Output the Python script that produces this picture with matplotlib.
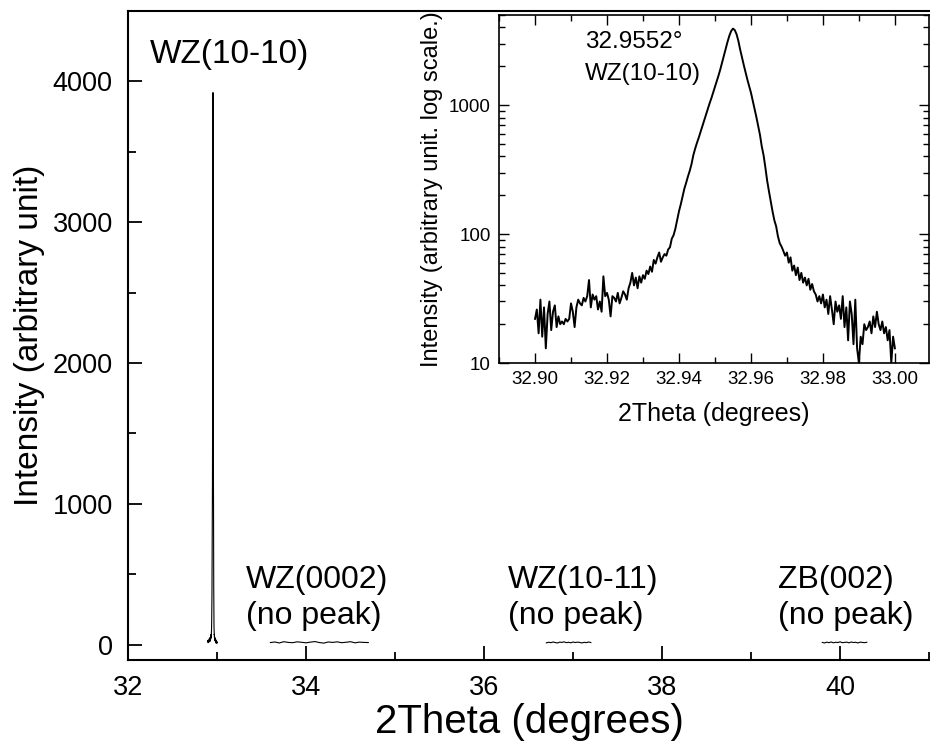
"""
XRD 2Theta scan: WZ(10-10) peak with log-scale inset.
"""

# Import packages
import numpy as np
import matplotlib.pyplot as plt
from matplotlib.ticker import MultipleLocator, LogLocator, NullFormatter

plt.style.use("default")
plt.rcParams["font.family"] = ["Liberation Sans", "DejaVu Sans"]

# Data
# fine scan around WZ(10-10), 32.900 -> 33.000 deg, step 0.0005 deg
peak_start, peak_stop = 32.900, 33.000
peak_counts = [
    22, 26, 17, 31, 16, 27, 13, 24, 30, 18,
    25, 28, 19, 23, 20, 21, 20, 22, 21, 22,
    29, 25, 19, 27, 31, 29, 28, 32, 30, 33,
    44, 27, 34, 31, 33, 26, 30, 25, 47, 33,
    35, 31, 23, 33, 32, 30, 35, 29, 32, 36,
    34, 31, 38, 42, 50, 40, 46, 38, 47, 42,
    48, 45, 52, 49, 56, 51, 63, 59, 66, 72,
    61, 66, 70, 68, 76, 79, 92, 98, 110, 128,
    150, 170, 195, 225, 250, 280, 310, 350, 410, 460,
    510, 560, 620, 690, 760, 840, 930, 1030, 1130, 1250,
    1380, 1530, 1700, 1900, 2150, 2420, 2750, 3100, 3450, 3750,
    3920, 3820, 3550, 3150, 2700, 2350, 2050, 1800, 1580, 1400,
    1250, 1080, 940, 810, 690, 590, 480, 410, 330, 260,
    215, 180, 150, 128, 115, 96, 85, 80, 74, 68,
    72, 60, 66, 52, 57, 48, 55, 44, 50, 42,
    46, 40, 45, 37, 41, 36, 34, 30, 33, 29,
    34, 27, 31, 24, 33, 26, 20, 30, 25, 28,
    22, 33, 19, 27, 15, 30, 24, 14, 31, 13,
    10, 16, 14, 20, 18, 19, 21, 17, 23, 19,
    25, 20, 18, 21, 17, 19, 15, 18, 10, 16,
    13,
]

# scans where no peak was found
wz0002_start, wz0002_stop = 33.6, 34.7
wz0002_counts = [14, 18, 11, 20, 15, 13, 19, 16, 12, 17, 21, 14,
                 10, 18, 15, 19, 13, 16, 20, 12, 17, 15, 14]
wz1011_start, wz1011_stop = 36.7, 37.2
wz1011_counts = [12, 16, 13, 18, 14, 11, 17, 15, 19, 13, 16,
                 12, 18, 14, 17, 15, 11, 16, 13, 18, 14]
zb002_start, zb002_stop = 39.8, 40.3
zb002_counts = [15, 11, 17, 13, 18, 12, 16, 14, 19, 13, 15,
                17, 12, 18, 14, 16, 11, 17, 15, 13, 16]

peak_x = np.linspace(peak_start, peak_stop, len(peak_counts))
scans = [
    (peak_x, peak_counts),
    (np.linspace(wz0002_start, wz0002_stop, len(wz0002_counts)), wz0002_counts),
    (np.linspace(wz1011_start, wz1011_stop, len(wz1011_counts)), wz1011_counts),
    (np.linspace(zb002_start, zb002_stop, len(zb002_counts)), zb002_counts),
]

# Main plot
fig = plt.figure(figsize=(9.3, 7.53), dpi=100)
ax = fig.add_axes([0.1376, 0.1235, 0.8624, 0.862])

for x, y in scans:
    ax.plot(x, y, color="black", linewidth=0.8)

ax.set_xlim(32, 41.01)
ax.set_ylim(-110, 4500)
ax.spines["right"].set_visible(False)
for side in ["left", "bottom", "top"]:
    ax.spines[side].set_linewidth(1.5)

ax.xaxis.set_major_locator(MultipleLocator(2))
ax.xaxis.set_minor_locator(MultipleLocator(1))
ax.yaxis.set_major_locator(MultipleLocator(1000))
ax.yaxis.set_minor_locator(MultipleLocator(500))
ax.tick_params(which="both", direction="in", labelsize=19.5, pad=11, width=1.3)
ax.tick_params(which="major", length=10)
ax.tick_params(which="minor", length=6)

ax.set_xlabel("2Theta (degrees)", fontsize=29, labelpad=1)
ax.set_ylabel("Intensity (arbitrary unit)", fontsize=24, labelpad=5)

ax.text(32.25, 4190, "WZ(10-10)", fontsize=24, va="center")
ax.text(33.33, 330, "WZ(0002)\n(no peak)", fontsize=23, va="center", linespacing=1.25)
ax.text(36.27, 330, "WZ(10-11)\n(no peak)", fontsize=23, va="center", linespacing=1.25)
ax.text(39.30, 330, "ZB(002)\n(no peak)", fontsize=23, va="center", linespacing=1.25)

# Inset, log scale
ins = fig.add_axes([0.5366, 0.5179, 0.4624, 0.4622])
ins.plot(peak_x, peak_counts, color="black", linewidth=1.4)
ins.set_yscale("log")
ins.set_xlim(32.89, 33.0095)
ins.set_ylim(10, 5000)
for side in ins.spines:
    ins.spines[side].set_linewidth(1.2)

ins.xaxis.set_major_locator(MultipleLocator(0.02))
ins.xaxis.set_minor_locator(MultipleLocator(0.01))
ins.xaxis.set_major_formatter(plt.FormatStrFormatter("%.2f"))
ins.yaxis.set_major_locator(LogLocator(base=10))
ins.yaxis.set_minor_locator(LogLocator(base=10, subs=np.arange(2, 10)))
ins.yaxis.set_minor_formatter(NullFormatter())
ins.yaxis.set_major_formatter(plt.FuncFormatter(lambda v, p: "%d" % v))
ins.tick_params(which="both", direction="in", top=True, right=True,
                labelsize=13.5, pad=6, width=1.0)
ins.tick_params(which="major", length=7)
ins.tick_params(which="minor", length=4)

ins.set_xlabel("2Theta (degrees)", fontsize=18, labelpad=10)
ins.set_ylabel("Intensity (arbitrary unit. log scale.)", fontsize=17, labelpad=4)
ins.text(0.2, 0.955, "32.9552°\nWZ(10-10)", transform=ins.transAxes,
         fontsize=17.5, va="top", ha="left", linespacing=1.6)

plt.savefig("out.png", dpi=100)
